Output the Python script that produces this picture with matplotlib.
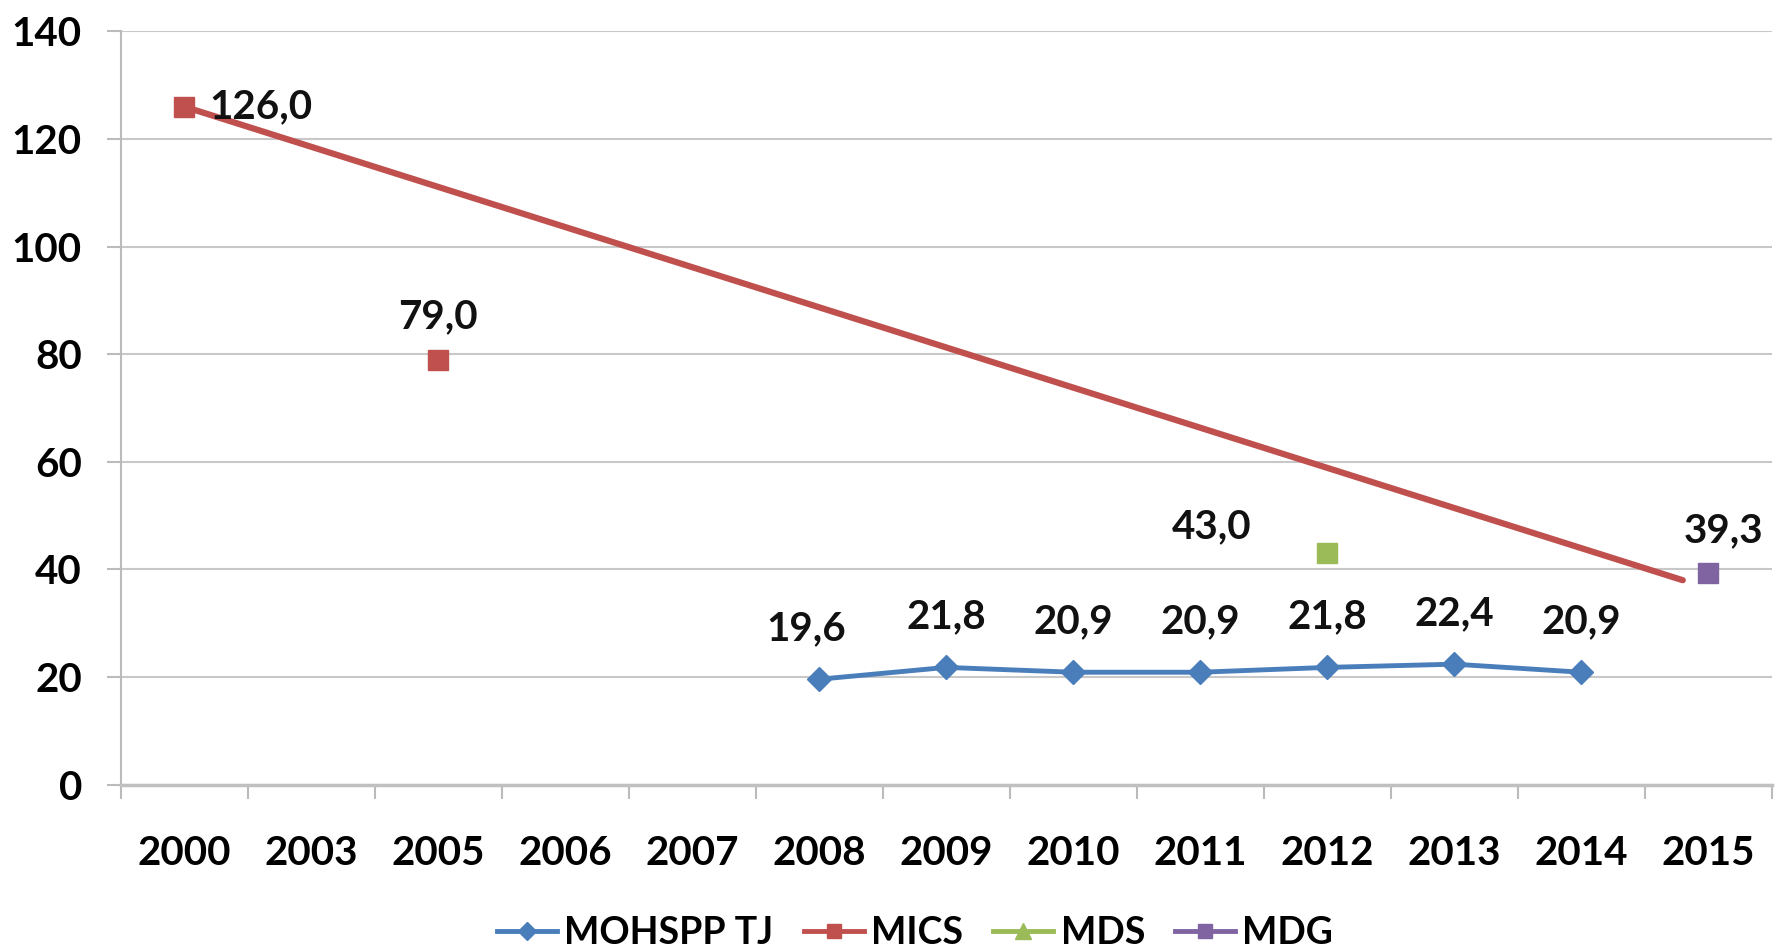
import numpy as np
import matplotlib.pyplot as plt

plt.rcParams['font.family'] = ['Lato', 'DejaVu Sans']

years = ['2000', '2003', '2005', '2006', '2007', '2008', '2009',
         '2010', '2011', '2012', '2013', '2014', '2015']

mohspp_x = ['2008', '2009', '2010', '2011', '2012', '2013', '2014']
mohspp_y = [19.6, 21.8, 20.9, 20.9, 21.8, 22.4, 20.9]

mics_x = ['2000', '2005']
mics_y = [126.0, 79.0]

mds_x = ['2012']
mds_y = [43.0]

mdg_x = ['2015']
mdg_y = [39.3]

# trend line drawn by hand in the original (category index, value)
trend_x = [0, 11.8]
trend_y = [126.0, 38.0]

blue = '#4A7EBB'
red = '#C0504D'
green = '#9BBB59'
purple = '#8064A2'

pos = {y: i for i, y in enumerate(years)}

fig = plt.figure(figsize=(17.77, 9.5), dpi=100)
ax = fig.add_axes([0.068, 0.174, 0.929, 0.793])

ax.plot(trend_x, trend_y, color=red, lw=4.5, solid_capstyle='round', zorder=2)

ax.plot([pos[x] for x in mohspp_x], mohspp_y, color=blue, lw=3.5, marker='D',
        ms=12, zorder=3)
ax.plot([pos[x] for x in mics_x], mics_y, color=red, lw=0, marker='s',
        ms=14, zorder=3)
ax.plot([pos[x] for x in mds_x], mds_y, color=green, lw=0, marker='s',
        ms=14, zorder=3)
ax.plot([pos[x] for x in mdg_x], mdg_y, color=purple, lw=0, marker='s',
        ms=14, zorder=3)

lab = dict(fontsize=29, fontweight='bold', color='#111111')
for i, (x, v) in enumerate(zip(mohspp_x, mohspp_y)):
    dx = -0.1 if i == 0 else 0
    ax.text(pos[x] + dx, v + 6, f'{v:.1f}'.replace('.', ','), ha='center', va='bottom', **lab)
ax.text(pos[mics_x[0]] + 0.2, mics_y[0], '126,0', ha='left', va='center', **lab)
ax.text(pos[mics_x[1]], mics_y[1] + 4.5, '79,0', ha='center', va='bottom', **lab)
ax.text(pos[mds_x[0]] - 0.6, mds_y[0] + 1.5, '43,0', ha='right', va='bottom', **lab)
ax.text(pos[mdg_x[0]] + 0.12, mdg_y[0] + 4.5, '39,3', ha='center', va='bottom', **lab)

ax.set_xlim(-0.5, len(years) - 0.5)
ax.set_ylim(0, 140)
ax.set_yticks(np.arange(0, 141, 20))
ax.set_xticks(range(len(years)))
ax.set_xticklabels(years)
ax.set_xticks(np.arange(-0.5, len(years), 1), minor=True)
ax.tick_params(axis='x', which='major', length=0, pad=36, labelsize=29)
ax.tick_params(axis='x', which='minor', length=10, width=1.5, color='#BBBBBB')
ax.tick_params(axis='y', length=10, width=1.5, color='#BBBBBB', pad=18, labelsize=29)
for t in ax.get_xticklabels() + ax.get_yticklabels():
    t.set_fontweight('bold')

ax.grid(axis='y', color='#C8C8C8', lw=1.5)
ax.set_axisbelow(True)
for s in ['top', 'right']:
    ax.spines[s].set_visible(False)
ax.spines['left'].set_color('#BBBBBB')
ax.spines['left'].set_linewidth(1.5)
ax.spines['bottom'].set_color('#C0C0C0')
ax.spines['bottom'].set_linewidth(2.5)

h = [plt.Line2D([], [], color=blue, lw=3.5, marker='D', ms=9),
     plt.Line2D([], [], color=red, lw=3.5, marker='s', ms=10),
     plt.Line2D([], [], color=green, lw=3.5, marker='^', ms=11),
     plt.Line2D([], [], color=purple, lw=3.5, marker='s', ms=10)]
fig.legend(h, ['MOHSPP TJ', 'MICS', 'MDS', 'MDG'], loc='center',
           bbox_to_anchor=(0.515, 0.018), ncol=4, frameon=False,
           prop={'size': 27, 'weight': 'bold'}, handlelength=1.6,
           handletextpad=0.2, columnspacing=0.8)

fig.savefig('out.png', dpi=100)
